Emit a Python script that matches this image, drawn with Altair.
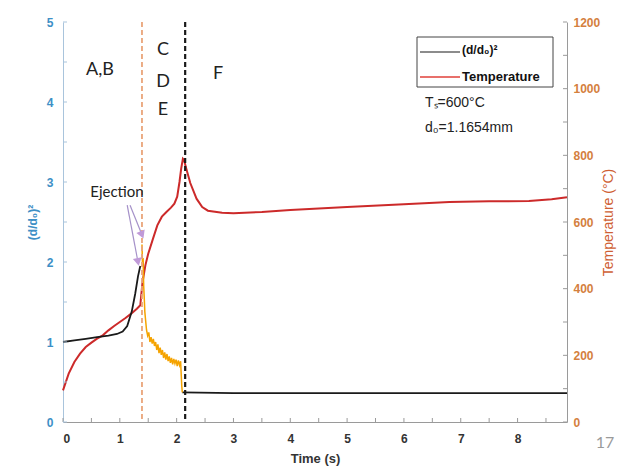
import altair as alt
import pandas as pd

# ---------------- data ----------------
# (d/d0)^2 before ejection
black_t1 = [0.0, 0.2, 0.4, 0.6, 0.8, 0.95, 1.05, 1.13, 1.21, 1.27, 1.32, 1.36]
black_v1 = [1.0, 1.02, 1.04, 1.06, 1.08, 1.10, 1.13, 1.20, 1.38, 1.60, 1.82, 1.95]
# (d/d0)^2 after the drop
black_t2 = [2.10, 3.0, 5.0, 7.0, 8.87]
black_v2 = [0.37, 0.36, 0.36, 0.36, 0.36]
# ejection phase (orange, noisy)
orange_t = [1.39, 1.40, 1.41, 1.42, 1.43, 1.44, 1.45, 1.47, 1.49, 1.51, 1.53, 1.55,
            1.57, 1.59, 1.61, 1.63, 1.65, 1.67, 1.69, 1.71, 1.73, 1.75, 1.77, 1.79,
            1.81, 1.83, 1.85, 1.87, 1.89, 1.91, 1.93, 1.95, 1.97, 1.99, 2.01, 2.03,
            2.05, 2.07, 2.08, 2.09, 2.10]
orange_v = [2.22, 1.95, 2.05, 1.70, 1.55, 1.38, 1.30, 1.15, 1.08, 1.12, 1.00, 1.06,
            0.98, 1.04, 0.95, 1.00, 0.90, 0.97, 0.86, 0.93, 0.84, 0.90, 0.80, 0.87,
            0.78, 0.85, 0.76, 0.82, 0.74, 0.80, 0.72, 0.79, 0.73, 0.78, 0.70, 0.77,
            0.71, 0.76, 0.60, 0.45, 0.37]
# temperature (right axis, degC)
temp_t = [0.0, 0.1, 0.2, 0.3, 0.4, 0.5, 0.6, 0.7, 0.8, 0.9, 1.0, 1.1, 1.2, 1.3, 1.36,
          1.40, 1.45, 1.50, 1.58, 1.66, 1.74, 1.82, 1.90, 1.96, 2.01, 2.05, 2.08, 2.11,
          2.13, 2.17, 2.24, 2.35, 2.45, 2.55, 2.8, 3.0, 3.5, 4.0, 5.0, 6.0, 6.8, 7.5,
          8.2, 8.6, 8.87]
temp_v = [95, 145, 180, 205, 225, 238, 250, 260, 275, 288, 300, 312, 325, 340, 350,
          420, 470, 505, 548, 590, 616, 630, 643, 655, 676, 720, 760, 790,
          786, 760, 717, 670, 645, 634, 628, 626, 630, 636, 645, 653, 660, 662,
          663, 668, 674]

# event lines
ejection_t = [1.39]
phase_t = [2.15]

# phase labels
phase_labels = ["A,B", "C", "D", "E", "F"]
phase_lt = [0.65, 1.76, 1.76, 1.76, 2.73]
phase_lv = [4.40, 4.65, 4.25, 3.90, 4.35]

# Ejection annotation
ej_label_t, ej_label_v = [0.95], [2.88]
arrow_t1 = [1.13, 1.18]
arrow_v1 = [2.71, 2.71]
arrow_t2 = [1.32, 1.39]
arrow_v2 = [2.00, 2.34]
arrow_ang = [349, 338]

# axis ticks
x_labels = [0, 1, 2, 3, 4, 5, 6, 7, 8]
x_minor = [0, 0.5, 1, 1.5, 2, 2.5, 3, 3.5, 4, 4.5, 5, 5.5, 6, 6.5, 7, 7.5, 8, 8.5]
yl_labels = [0, 1, 2, 3, 4, 5]
yl_minor = [0, 0.5, 1, 1.5, 2, 2.5, 3, 3.5, 4, 4.5, 5]
yr_labels = [0, 200, 400, 600, 800, 1000, 1200]
yr_minor = [0, 100, 200, 300, 400, 500, 600, 700, 800, 900, 1000, 1100, 1200]

# ---------------- styling ----------------
W, H = 504, 400
XMAX = 8.87
FONT = "Liberation Sans"
BLUE = "#3d8fc6"
ORANGE_LBL = "#d4803e"
ORANGE_TTL = "#cf5f34"

x_scale = alt.Scale(domain=[0, XMAX], nice=False, zero=False)
yl_scale = alt.Scale(domain=[0, 5], nice=False)
yr_scale = alt.Scale(domain=[0, 1200], nice=False)

x_axis = alt.Axis(values=x_labels, title="Time (s)", ticks=False, grid=False,
                  domainColor="#9a9a9a", labelColor="#333333", labelFont=FONT,
                  labelFontSize=12, labelFontWeight="bold", labelPadding=11,
                  titleFont=FONT, titleFontSize=13, titleFontWeight="bold",
                  titleColor="#333333", titlePadding=8)
yl_axis = alt.Axis(values=yl_labels, title="(d/d₀)²", ticks=False, grid=False,
                   domainColor="#a9c4dc", labelColor=BLUE, labelFont=FONT,
                   labelFontSize=12, labelFontWeight="bold", labelPadding=10,
                   titleFont=FONT, titleFontSize=12, titleFontWeight="bold",
                   titleColor=BLUE, titlePadding=7)
yr_axis = alt.Axis(values=yr_labels, format="d", title="Temperature (°C)", orient="right",
                   ticks=False, grid=False, domainColor="#9a9a9a", labelColor=ORANGE_LBL,
                   labelFont=FONT, labelFontSize=12, labelFontWeight="bold", labelPadding=6,
                   titleFont=FONT, titleFontSize=14, titleFontWeight="normal",
                   titleColor=ORANGE_TTL, titleAngle=270, titlePadding=16)

def X(field="t"):
    return alt.X(f"{field}:Q", scale=x_scale, axis=x_axis)

def YL(field="v"):
    return alt.Y(f"{field}:Q", scale=yl_scale, axis=yl_axis)

def YR(field="temp"):
    return alt.Y(f"{field}:Q", scale=yr_scale, axis=yr_axis)

# ---------------- left-scale layers ----------------
black_df = pd.DataFrame({
    "t": black_t1 + black_t2,
    "v": black_v1 + black_v2,
    "seg": ["a"] * len(black_t1) + ["b"] * len(black_t2),
})
black = alt.Chart(black_df).mark_line(color="#1a1a1a", strokeWidth=1.8).encode(
    x=X(), y=YL(), detail="seg:N")

orange = alt.Chart(pd.DataFrame({"t": orange_t, "v": orange_v})).mark_line(
    color="#f5a300", strokeWidth=1.5).encode(x=X(), y=YL())

ej_rule = alt.Chart(pd.DataFrame({"t": ejection_t})).mark_rule(
    color="#eaa57a", strokeWidth=1.8, strokeDash=[5, 3]).encode(x=X())
ph_rule = alt.Chart(pd.DataFrame({"t": phase_t})).mark_rule(
    color="#1a1a1a", strokeWidth=2.2, strokeDash=[5, 3]).encode(x=X())

phase_txt = alt.Chart(pd.DataFrame({"t": phase_lt, "v": phase_lv, "s": phase_labels})).mark_text(
    font="Lato", fontSize=18, color="#222222").encode(x=X(), y=YL(), text="s:N")

ej_txt = alt.Chart(pd.DataFrame({"t": ej_label_t, "v": ej_label_v, "s": ["Ejection"]})).mark_text(
    font="Lato", fontSize=15, color="#222222").encode(x=X(), y=YL(), text="s:N")

arrow_df = pd.DataFrame({"t": arrow_t1, "v": arrow_v1, "t2": arrow_t2, "v2": arrow_v2,
                         "ang": arrow_ang})
arrows = alt.Chart(arrow_df).mark_rule(color="#a591c9", strokeWidth=1.2).encode(
    x=X(), y=YL(), x2="t2:Q", y2="v2:Q")
heads = alt.Chart(arrow_df).mark_point(shape="triangle-down", filled=True, size=80,
                                       color="#c09ad8", opacity=1).encode(
    x=X("t2"), y=YL("v2"), angle=alt.Angle("ang:Q", scale=None))

page_no = alt.Chart(pd.DataFrame({"t": [9.54], "v": [-0.26], "s": ["17"]})).mark_text(
    font="Lato", fontSize=16, color="#9a9a9a").encode(x=X(), y=YL(), text="s:N")

# inward ticks
xt = alt.Chart(pd.DataFrame({"t": x_minor})).mark_rule(color="#9a9a9a").encode(
    x=X(), y=alt.value(H), y2=alt.value(H - 4))
ylt = alt.Chart(pd.DataFrame({"v": yl_minor})).mark_rule(color="#a9c4dc").encode(
    y=YL(), x=alt.value(0), x2=alt.value(4))

# legend box and notes
one = pd.DataFrame({"k": [0]})
leg_box = alt.Chart(one).mark_rect(fill="white", stroke="#444444", strokeWidth=1).encode(
    x=alt.value(354), x2=alt.value(490), y=alt.value(15), y2=alt.value(65))
leg_l1 = alt.Chart(one).mark_rule(color="#1a1a1a", strokeWidth=1.2).encode(
    x=alt.value(357), x2=alt.value(397), y=alt.value(30))
leg_l2 = alt.Chart(one).mark_rule(color="#e0403a", strokeWidth=1.6).encode(
    x=alt.value(357), x2=alt.value(397), y=alt.value(55))
leg_t1 = alt.Chart(one).mark_text(text="(d/d₀)²", font=FONT, fontSize=12, fontWeight="bold",
                                  align="left", baseline="middle", color="#111").encode(
    x=alt.value(399), y=alt.value(28))
leg_t2 = alt.Chart(one).mark_text(text="Temperature", font=FONT, fontSize=13, fontWeight="bold",
                                  align="left", baseline="middle", color="#111").encode(
    x=alt.value(399), y=alt.value(55))
note1 = alt.Chart(one).mark_text(text="Tₛ=600°C", font=FONT, fontSize=14,
                                 align="left", baseline="middle", color="#222").encode(
    x=alt.value(362), y=alt.value(81))
note2 = alt.Chart(one).mark_text(text="d₀=1.1654mm", font=FONT, fontSize=14,
                                 align="left", baseline="middle", color="#222").encode(
    x=alt.value(362), y=alt.value(106))

left = alt.layer(black, orange, ej_rule, ph_rule, phase_txt, ej_txt, arrows, heads,
                 page_no, xt, ylt, leg_box, leg_l1, leg_l2, leg_t1, leg_t2, note1, note2)

# ---------------- right-scale layers ----------------
red = alt.Chart(pd.DataFrame({"t": temp_t, "temp": temp_v})).mark_line(
    color="#cc2a2a", strokeWidth=2).encode(x=X(), y=YR())
yrt = alt.Chart(pd.DataFrame({"temp": yr_minor})).mark_rule(color="#9a9a9a").encode(
    y=YR(), x=alt.value(W), x2=alt.value(W - 4))
right = alt.layer(red, yrt)

chart = alt.layer(right, left).resolve_scale(y="independent").properties(
    width=W, height=H, autosize="none",
    padding={"left": 55, "top": 14, "right": 65, "bottom": 50},
).configure_view(stroke=None)

chart.save("out.html", embed_options={"renderer": "svg", "actions": False})
